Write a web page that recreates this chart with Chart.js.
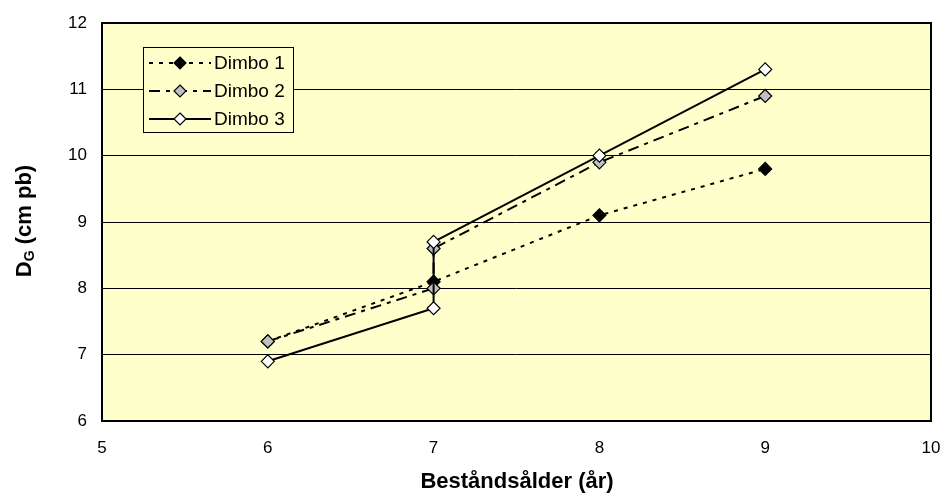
<!DOCTYPE html>
<html>
<head>
<meta charset="utf-8">
<script src="https://cdn.jsdelivr.net/npm/chart.js@4.4.0/dist/chart.umd.min.js"></script>
<style>
  html, body { margin: 0; padding: 0; background: #fff; }
  #wrap { width: 941px; height: 496px; }
</style>
</head>
<body>
<div id="wrap"><canvas id="chart" width="941" height="496"></canvas></div>
<script>
// values
const seriesNames = ['Dimbo 1', 'Dimbo 2', 'Dimbo 3'];
const dimbo1X = [6, 7, 8, 9];
const dimbo1Y = [7.2, 8.1, 9.1, 9.8];
const dimbo2X = [6, 7, 7, 8, 9];
const dimbo2Y = [7.2, 8.0, 8.6, 9.9, 10.9];
const dimbo3X = [6, 7, 7, 8, 9];
const dimbo3Y = [6.9, 7.7, 8.7, 10.0, 11.3];
const xTicks = [5, 6, 7, 8, 9, 10];
const yTicks = [6, 7, 8, 9, 10, 11, 12];

const FONT = 'Arial, "Liberation Sans", sans-serif';
const toPoints = (xs, ys) => xs.map((x, i) => ({ x: x, y: ys[i] }));

const styles = [
  { fill: '#000000', dash: [4, 6] },
  { fill: '#C0C0C0', dash: [11, 6, 4, 6] },
  { fill: '#FFFFFF', dash: [] },
];

// plot background, frame, axis titles and the boxed legend
const decor = {
  id: 'decor',
  beforeDraw(chart) {
    const { ctx, chartArea: a } = chart;
    ctx.save();
    ctx.fillStyle = '#FFFFCC';
    ctx.fillRect(a.left, a.top, a.right - a.left, a.bottom - a.top);
    ctx.restore();
  },
  beforeDatasetsDraw(chart) {
    const { ctx, chartArea: a } = chart;
    ctx.save();
    ctx.strokeStyle = '#000';
    ctx.lineWidth = 2;
    ctx.strokeRect(a.left, a.top, a.right - a.left, a.bottom - a.top);
    ctx.restore();
  },
  afterDraw(chart) {
    const { ctx, chartArea: a } = chart;
    ctx.save();
    ctx.fillStyle = '#000';

    // x title
    ctx.font = 'bold 22px ' + FONT;
    ctx.textAlign = 'center';
    ctx.textBaseline = 'middle';
    ctx.fillText('Beståndsålder (år)', 517, 482);

    // y title with subscript G
    ctx.translate(25, 221);
    ctx.rotate(-Math.PI / 2);
    ctx.textAlign = 'left';
    ctx.textBaseline = 'middle';
    const big = 'bold 22px ' + FONT, small = 'bold 14px ' + FONT;
    ctx.font = big;
    const wD = ctx.measureText('D').width;
    const wRest = ctx.measureText(' (cm pb)').width;
    ctx.font = small;
    const wG = ctx.measureText('G').width;
    let x = -(wD + wG + wRest) / 2;
    ctx.font = big;
    ctx.fillText('D', x, 0);
    x += wD;
    ctx.font = small;
    ctx.fillText('G', x, 5);
    x += wG;
    ctx.font = big;
    ctx.fillText(' (cm pb)', x, 0);
    ctx.restore();

    // legend
    ctx.save();
    const bx = 143, by = 47, bw = 150, bh = 85;
    ctx.fillStyle = '#FFFFCC';
    ctx.fillRect(bx, by, bw, bh);
    ctx.strokeStyle = '#000';
    ctx.lineWidth = 1;
    ctx.strokeRect(bx + 0.5, by + 0.5, bw, bh);
    ctx.font = '19px ' + FONT;
    ctx.textBaseline = 'middle';
    ctx.textAlign = 'left';
    seriesNames.forEach((name, i) => {
      const y = 63 + i * 28;
      const s = styles[i];
      ctx.strokeStyle = '#000';
      ctx.lineWidth = 2;
      ctx.setLineDash(s.dash);
      ctx.beginPath();
      ctx.moveTo(149, y);
      ctx.lineTo(211, y);
      ctx.stroke();
      ctx.setLineDash([]);
      ctx.lineWidth = 1.2;
      ctx.fillStyle = s.fill;
      ctx.beginPath();
      ctx.moveTo(180, y - 6);
      ctx.lineTo(186, y);
      ctx.lineTo(180, y + 6);
      ctx.lineTo(174, y);
      ctx.closePath();
      ctx.fill();
      ctx.stroke();
      ctx.fillStyle = '#000';
      ctx.fillText(name, 214, y + 1);
    });
    ctx.restore();
  }
};

const allY = [dimbo1Y, dimbo2Y, dimbo3Y];
const allX = [dimbo1X, dimbo2X, dimbo3X];

new Chart(document.getElementById('chart'), {
  type: 'scatter',
  data: {
    datasets: seriesNames.map((name, i) => ({
      label: name,
      data: toPoints(allX[i], allY[i]),
      showLine: true,
      borderColor: '#000',
      borderWidth: 2,
      borderDash: styles[i].dash,
      backgroundColor: styles[i].fill,
      pointStyle: 'rectRot',
      pointRadius: 6.5,
      pointHoverRadius: 6.5,
      pointBorderColor: '#000',
      pointBorderWidth: 1.2,
      pointBackgroundColor: styles[i].fill,
      tension: 0,
      order: 3 - i,
    })),
  },
  options: {
    responsive: false,
    animation: false,
    layout: { padding: { top: 23, right: 10, left: 0, bottom: 0 } },
    plugins: {
      legend: { display: false },
      tooltip: { enabled: false },
    },
    scales: {
      x: {
        type: 'linear',
        min: 5,
        max: 10,
        afterBuildTicks: (s) => { s.ticks = xTicks.map(v => ({ value: v })); },
        afterFit: (s) => { s.height = 75; s.paddingLeft = 0; s.paddingRight = 0; },
        grid: { display: false, drawTicks: false },
        border: { display: false },
        ticks: { color: '#000', font: { family: FONT, size: 17 }, padding: 17, maxRotation: 0 },
      },
      y: {
        type: 'linear',
        min: 6,
        max: 12,
        afterBuildTicks: (s) => { s.ticks = yTicks.map(v => ({ value: v })); },
        afterFit: (s) => { s.width = 102; s.paddingTop = 0; s.paddingBottom = 0; },
        grid: { color: '#000', lineWidth: 1, drawTicks: false },
        border: { display: false },
        ticks: { color: '#000', font: { family: FONT, size: 17 }, padding: 15 },
      },
    },
  },
  plugins: [decor],
});
</script>
</body>
</html>
